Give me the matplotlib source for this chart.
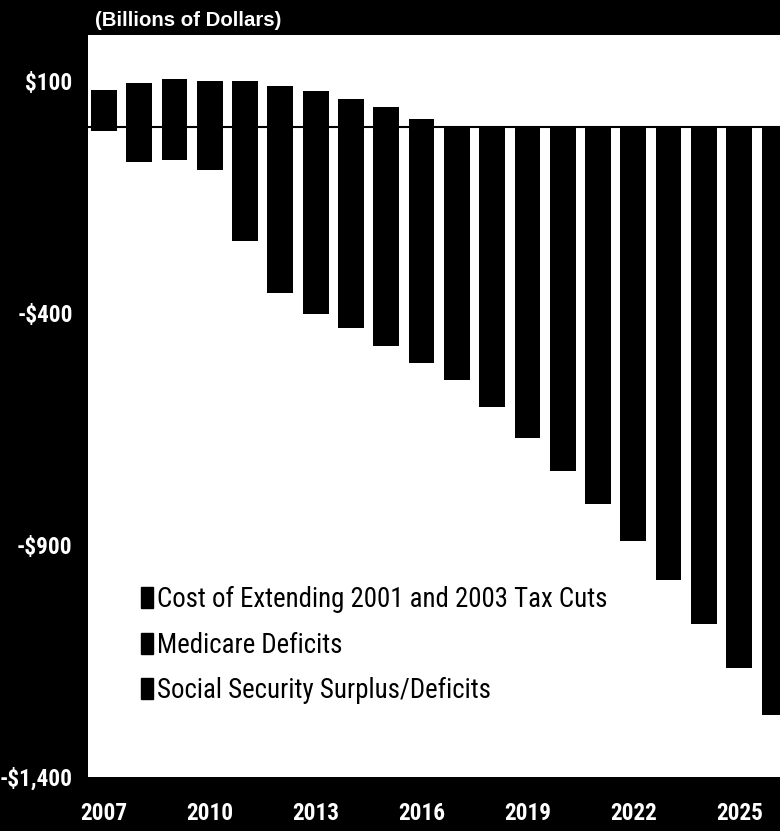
import numpy as np
import matplotlib.pyplot as plt
from matplotlib import font_manager as fm
from matplotlib.font_manager import FontProperties
from matplotlib.patches import Patch

# valores (bilhoes de dolares)
years = np.arange(2007, 2027)
bar_top = [80, 95, 103, 99, 100, 88, 78, 60, 42, 18, 1, 0, 0, 0, 0, 0, 0, 0, 0, 0]
bar_bottom = [-9, -75, -71, -93, -245, -357, -402, -434, -472, -508,
              -545, -604, -670, -741, -811, -892, -976, -1070, -1165, -1267]

ytick_vals = [100, -400, -900, -1400]
ytick_labels = ['$100', '-$400', '-$900', '-$1,400']
xtick_vals = [2007, 2010, 2013, 2016, 2019, 2022, 2025]

legend_labels = ['Cost of Extending 2001 and 2003 Tax Cuts',
                 'Medicare Deficits',
                 'Social Security Surplus/Deficits']


def pick_narrow_font():
    entries = [(f.name, f.stretch) for f in fm.fontManager.ttflist]
    names = {n for n, _ in entries}
    for n in ['Liberation Sans Narrow', 'Arial Narrow', 'Roboto Condensed',
              'Noto Sans Condensed', 'Open Sans Condensed']:
        if n in names:
            return n, 'normal'
    for n in ['DejaVu Sans', 'Noto Sans', 'Open Sans', 'Roboto']:
        for name, st in entries:
            if name == n and st in ('condensed', 'semi-condensed', 'extra-condensed'):
                return n, 'condensed'
    return 'Liberation Sans', 'normal'


def fit_size(renderer, text, family, stretch, weight, target_px):
    # ajusta o tamanho da fonte para a largura medida na referencia
    prop = FontProperties(family=family, stretch=stretch, weight=weight, size=10)
    w, _, _ = renderer.get_text_width_height_descent(text, prop, ismath=False)
    return 10 * target_px / w


def plot_chart():
    narrow, stretch = pick_narrow_font()
    fig = plt.figure(figsize=(7.8, 8.31), dpi=100, facecolor='black')
    renderer = fig.canvas.get_renderer()

    tick_size = fit_size(renderer, '2007', narrow, stretch, 'bold', 47)
    legend_size = fit_size(renderer, legend_labels[0], narrow, stretch, 'normal', 448)
    title_size = fit_size(renderer, '(Billions of Dollars)', 'Liberation Sans',
                          'normal', 'bold', 186)

    ax = fig.add_axes([88 / 780, 54 / 831, 1 - 88 / 780 + 0.002, (777 - 35) / 831])
    ax.set_facecolor('white')

    top = np.array(bar_top)
    bottom = np.array(bar_bottom)
    ax.bar(years, top - bottom, bottom=bottom, width=0.73, color='black')
    ax.axhline(0, color='black', linewidth=1.5)

    ax.set_xlim(2006.55, 2026.2)
    ax.set_ylim(-1400, 198)

    tick_font = dict(fontfamily=narrow, fontstretch=stretch, fontweight='bold',
                     fontsize=tick_size, color='white')
    ax.set_yticks(ytick_vals)
    ax.set_yticklabels(ytick_labels, **tick_font)
    ax.set_xticks(xtick_vals)
    ax.set_xticklabels([str(y) for y in xtick_vals], **tick_font)
    ax.tick_params(axis='y', length=0, pad=11)
    ax.tick_params(axis='x', length=0, pad=18)
    for s in ax.spines.values():
        s.set_visible(False)

    fig.text(95 / 780, 1 - 20 / 831, '(Billions of Dollars)', color='white',
             fontsize=title_size, fontweight='bold', fontfamily='Liberation Sans',
             ha='left', va='center')

    px = legend_size * 100 / 72
    handles = [Patch(facecolor='black', edgecolor='black') for _ in legend_labels]
    fig.legend(handles, legend_labels, loc='upper left',
               bbox_to_anchor=(141 / 780, 1 - 586 / 831),
               frameon=False, borderpad=0, borderaxespad=0,
               handlelength=12 / px, handleheight=22 / px,
               handletextpad=4 / px, labelspacing=(44 - 0.95 * px) / px,
               prop=FontProperties(family=narrow, stretch=stretch, size=legend_size))

    fig.savefig('out.png', dpi=100, facecolor='black')


if __name__ == '__main__':
    plot_chart()
